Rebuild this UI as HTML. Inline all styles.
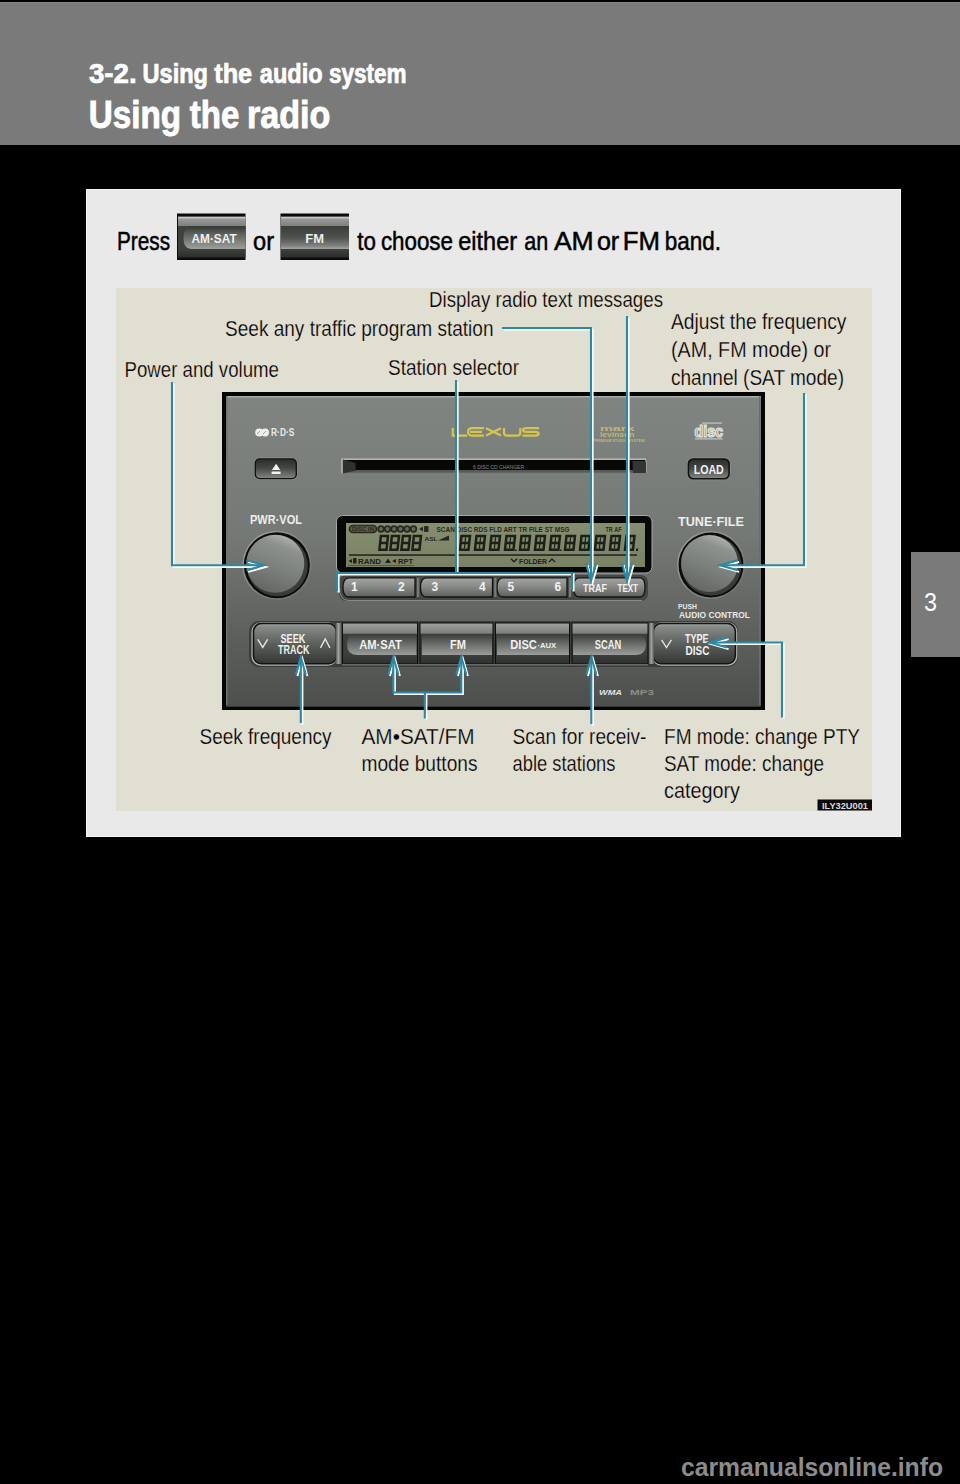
<!DOCTYPE html>
<html><head><meta charset="utf-8">
<style>
html,body{margin:0;padding:0;background:#000;width:960px;height:1484px;overflow:hidden}
svg{display:block;position:absolute;left:0;top:0}
text{font-family:"Liberation Sans",sans-serif}
</style></head><body>
<svg width="960" height="1484" viewBox="0 0 960 1484">
<defs>
<linearGradient id="face" x1="0" y1="0" x2="0" y2="1">
  <stop offset="0" stop-color="#818581"/><stop offset="0.45" stop-color="#757975"/>
  <stop offset="0.75" stop-color="#5e615d"/><stop offset="1" stop-color="#4c4f4b"/>
</linearGradient>
<linearGradient id="dkbtn" x1="0" y1="0" x2="0" y2="1">
  <stop offset="0" stop-color="#2c2f2c"/><stop offset="0.45" stop-color="#434643"/><stop offset="1" stop-color="#7f837f"/>
</linearGradient>
<linearGradient id="knob" x1="0.7" y1="0.0" x2="0.3" y2="1">
  <stop offset="0" stop-color="#b3b7b3"/><stop offset="0.2" stop-color="#8e928e"/><stop offset="0.6" stop-color="#7a7e7a"/><stop offset="1" stop-color="#626562"/>
</linearGradient>
<linearGradient id="ringg" x1="0" y1="0" x2="1" y2="1">
  <stop offset="0" stop-color="#9ea29e"/><stop offset="1" stop-color="#6d716d"/>
</linearGradient>
<linearGradient id="lcdsheen" x1="0" y1="0" x2="0" y2="1">
  <stop offset="0" stop-color="#fff" stop-opacity="0.05"/><stop offset="1" stop-color="#000" stop-opacity="0.05"/>
</linearGradient>
<linearGradient id="preset" x1="0" y1="0" x2="0" y2="1">
  <stop offset="0" stop-color="#a3a6a3"/><stop offset="0.4" stop-color="#8b8e8b"/><stop offset="1" stop-color="#5c5f5c"/>
</linearGradient>
<linearGradient id="rocker" x1="0" y1="0" x2="0" y2="1">
  <stop offset="0" stop-color="#9a9e9a"/><stop offset="0.08" stop-color="#858985"/><stop offset="0.5" stop-color="#5c605c"/><stop offset="1" stop-color="#353835"/>
</linearGradient>
<linearGradient id="sep" x1="0" y1="0" x2="1" y2="0">
  <stop offset="0" stop-color="#505350"/><stop offset="0.5" stop-color="#a0a3a0"/><stop offset="1" stop-color="#505350"/>
</linearGradient>
<linearGradient id="bbtn" x1="0" y1="0" x2="0" y2="1">
  <stop offset="0" stop-color="#a0a3a0"/><stop offset="0.25" stop-color="#7c7f7c"/>
  <stop offset="0.27" stop-color="#3c3f3c"/><stop offset="0.78" stop-color="#3c3f3c"/><stop offset="1" stop-color="#2d302d"/>
</linearGradient>
<linearGradient id="pill" x1="0" y1="0" x2="0" y2="1">
  <stop offset="0" stop-color="#383b38"/><stop offset="0.35" stop-color="#5d605d"/><stop offset="1" stop-color="#9a9d9a"/>
</linearGradient>
<linearGradient id="pbtn" x1="0" y1="0" x2="0" y2="1">
  <stop offset="0" stop-color="#9fa29f"/><stop offset="0.22" stop-color="#7f827f"/>
  <stop offset="0.23" stop-color="#3d403d"/><stop offset="0.8" stop-color="#3d403d"/><stop offset="1" stop-color="#2a2c2a"/>
</linearGradient>
<linearGradient id="ppill" x1="0" y1="0" x2="0" y2="1">
  <stop offset="0" stop-color="#333633"/><stop offset="0.3" stop-color="#5a5d5a"/><stop offset="1" stop-color="#9c9f9c"/>
</linearGradient>
<linearGradient id="ppill2" x1="0" y1="0" x2="0" y2="1">
  <stop offset="0" stop-color="#3a3d3a"/><stop offset="0.5" stop-color="#4f524f"/><stop offset="0.85" stop-color="#7d807d"/><stop offset="1" stop-color="#a3a6a3"/>
</linearGradient>
</defs>
<!-- header band -->
<rect x="0" y="2" width="960" height="143" fill="#7a7a7a"/>
<rect x="0" y="2" width="960" height="1" fill="#868686"/>
<g font-size="27" font-weight="bold" fill="#fff" stroke="#fff" stroke-width="0.7"><text id="h1_0" x="89.01" y="83" textLength="47.62" lengthAdjust="spacingAndGlyphs">3-2.</text><text id="h1_1" x="142.57" y="83" textLength="65.45" lengthAdjust="spacingAndGlyphs">Using</text><text id="h1_2" x="214.19" y="83" textLength="38.02" lengthAdjust="spacingAndGlyphs">the</text><text id="h1_3" x="259.80" y="83" textLength="62.80" lengthAdjust="spacingAndGlyphs">audio</text><text id="h1_4" x="329.00" y="83" textLength="77.60" lengthAdjust="spacingAndGlyphs">system</text></g>
<g font-size="38" font-weight="bold" fill="#fff" stroke="#fff" stroke-width="0.9"><text id="h2_0" x="88.77" y="127.5" textLength="92.25" lengthAdjust="spacingAndGlyphs">Using</text><text id="h2_1" x="189.80" y="127.5" textLength="49.60" lengthAdjust="spacingAndGlyphs">the</text><text id="h2_2" x="246.96" y="127.5" textLength="83.27" lengthAdjust="spacingAndGlyphs">radio</text></g>

<!-- white box -->
<rect x="86" y="189" width="815" height="648" fill="#f6f6f6"/>
<rect x="87" y="190" width="813" height="646" fill="#e9e9e9"/>

<!-- press line -->
<text x="117" y="249.5" font-size="26" fill="#000" stroke="#000" stroke-width="0.5" textLength="53" lengthAdjust="spacingAndGlyphs">Press</text>
<text x="253" y="249.5" font-size="26" fill="#000" stroke="#000" stroke-width="0.5" textLength="21" lengthAdjust="spacingAndGlyphs">or</text>
<g font-size="26" fill="#000" stroke="#000" stroke-width="0.5"><text id="p_0" x="357.29" y="249.6" textLength="18.62" lengthAdjust="spacingAndGlyphs">to</text><text id="p_1" x="380.90" y="249.6" textLength="72.10" lengthAdjust="spacingAndGlyphs">choose</text><text id="p_2" x="458.30" y="249.6" textLength="58.81" lengthAdjust="spacingAndGlyphs">either</text><text id="p_3" x="524.24" y="249.6" textLength="23.94" lengthAdjust="spacingAndGlyphs">an</text><text id="p_4" x="553.90" y="249.6" textLength="39.83" lengthAdjust="spacingAndGlyphs">AM</text><text id="p_5" x="596.88" y="249.6" textLength="22.32" lengthAdjust="spacingAndGlyphs">or</text><text id="p_6" x="622.74" y="249.6" textLength="37.17" lengthAdjust="spacingAndGlyphs">FM</text><text id="p_7" x="664.76" y="249.6" textLength="56.26" lengthAdjust="spacingAndGlyphs">band.</text></g>

<!-- press buttons -->
<g>
 <rect x="177" y="213.5" width="68.5" height="46.5" fill="#0a0b0a"/>
 <rect x="178" y="216.5" width="67.5" height="41" fill="url(#pbtn)"/>
 <rect x="178" y="217" width="67.5" height="1.5" fill="#c3c6c3"/>
 <path d="M191 226.5 H245.5 V249 H191 Q183.5 249 183.5 237.75 Q183.5 226.5 191 226.5 Z" fill="url(#ppill)"/>
 <text x="191.6" y="242.5" font-size="13" font-weight="bold" fill="#eef0ee" textLength="45" lengthAdjust="spacingAndGlyphs">AM·SAT</text>
 <rect x="280.5" y="213.5" width="68.5" height="46.5" fill="#0a0b0a"/>
 <rect x="281" y="216.5" width="68" height="41" fill="url(#pbtn)"/>
 <rect x="281" y="217" width="68" height="1.5" fill="#c3c6c3"/>
 <rect x="281" y="226.5" width="68" height="22.5" fill="url(#ppill2)"/>
 <text x="305.3" y="242.5" font-size="13" font-weight="bold" fill="#eef0ee" textLength="18.7" lengthAdjust="spacingAndGlyphs">FM</text>
</g>
<!-- beige panel -->
<rect x="116" y="288" width="756" height="523" fill="#e1dfd1"/>

<!-- radio -->
<g transform="translate(222,392)">
  <rect x="0" y="0" width="543" height="318" fill="#050505"/>
  <rect x="4" y="4" width="535" height="310.7" fill="url(#face)"/>
  <rect x="5" y="4" width="534" height="1.5" fill="#a9ada9"/>
  <rect x="4" y="4" width="1.5" height="309" fill="#6f736f"/>
  <rect x="537" y="4" width="1.5" height="309" fill="#6a6e6a"/>
  <!-- RDS -->
  <g fill="#eef0ee">
    <ellipse cx="37.2" cy="40.5" rx="4" ry="3.9"/><ellipse cx="43" cy="40.5" rx="4" ry="3.9"/>
  </g>
  <path d="M35 42 L38 39 M41 42 L44 39" stroke="#8a8d8a" stroke-width="0.8"/>
  <text x="49" y="44.3" font-size="10.5" font-weight="bold" fill="#e6e9e6" textLength="23.4" lengthAdjust="spacingAndGlyphs">R·D·S</text>
  <!-- eject -->
  <rect x="32" y="65.6" width="43.6" height="22.3" rx="5.5" fill="#8f938f"/>
  <rect x="32.6" y="66.2" width="42.4" height="21.1" rx="5" fill="#111211"/>
  <rect x="34" y="67.6" width="39.6" height="18.3" rx="4" fill="url(#dkbtn)"/>
  <path d="M49.9 78 L54.1 71.7 L58.3 78 Z M49.6 79.6 H58.6 V82 H49.6 Z" fill="#f2f2f2"/>
  <!-- CD slot -->
  <rect x="120" y="66.4" width="304" height="1.8" fill="#b3b6b3"/>
  <rect x="121" y="68" width="302" height="10.2" fill="#070807"/>
  <rect x="121" y="78.2" width="302" height="2.5" fill="#505350" opacity="0.8"/>
  <rect x="119" y="66.5" width="1.6" height="15" fill="#a9aca9"/>
  <path d="M121 67.5 L133.6 71 L133.6 78.5 L121 81.5 Z" fill="#2f312f"/>
  <path d="M410.5 69 H422 Q424 69 424 71 V81 H411 Z" fill="#333533"/>
  <rect x="424" y="68.5" width="1" height="12.5" fill="#9a9d9a"/>
  <text x="251" y="76.5" font-size="6" fill="#8a8d8a" textLength="51" lengthAdjust="spacingAndGlyphs">6 DISC CD CHANGER</text>
  <!-- LEXUS -->
  <g transform="translate(-222,-392)" fill="none" stroke="#d3c552" stroke-width="2.2">
    <path d="M452.8 428 V435.6 H467"/>
    <path d="M484 428.2 H472.5 Q468 428.2 468 431.9 Q468 435.6 472.5 435.6 H484 M470 431.9 H482"/>
    <path d="M486 428.2 L501 435.6 M501 428.2 L486 435.6"/>
    <path d="M504 428 V433 Q504 435.6 507 435.6 H517 Q520.3 435.6 520.3 433 V428"/>
    <path d="M539 428.2 H526.5 Q523 428.2 523 430 Q523 431.9 526.5 431.9 H535 Q538.6 431.9 538.6 433.7 Q538.6 435.6 535 435.6 H522.5"/>
  </g>
  <!-- mark levinson -->
  <g fill="#bdb67e">
    <text x="378" y="38.5" font-size="7.5" font-weight="bold" textLength="34.5" lengthAdjust="spacingAndGlyphs">mark</text>
    <text x="378" y="45.3" font-size="7.5" font-weight="bold" textLength="34.5" lengthAdjust="spacingAndGlyphs">levinson</text>
    <text x="371" y="50" font-size="4.2" font-weight="bold" textLength="51.4" lengthAdjust="spacingAndGlyphs">PREMIUM STUDIO SYSTEM</text>
  </g>
  <!-- disc logo -->
  <text x="472.5" y="44.5" font-size="16" font-weight="bold" fill="#8e918e" stroke="#e3e6e3" stroke-width="1.2" textLength="28.5" lengthAdjust="spacingAndGlyphs">disc</text>
  <rect x="473" y="46.3" width="27.5" height="1.2" fill="#c3c6c3"/>
  <rect x="480" y="30.5" width="20" height="1.2" fill="#c3c6c3"/>
  <!-- LOAD -->
  <rect x="465" y="65.6" width="43.5" height="22.6" rx="6" fill="#8f938f"/>
  <rect x="465.6" y="66.2" width="42.3" height="21.4" rx="5.5" fill="#111211"/>
  <rect x="467.2" y="67.8" width="39.1" height="18.2" rx="4.5" fill="url(#dkbtn)"/>
  <text x="471.75" y="82.1" font-size="13" font-weight="bold" fill="#f0f0f0" textLength="30" lengthAdjust="spacingAndGlyphs">LOAD</text>
  <!-- PWR VOL -->
  <text x="28" y="131.6" font-size="13" font-weight="bold" fill="#eceeec" textLength="52" lengthAdjust="spacingAndGlyphs">PWR·VOL</text>
  <circle cx="54.8" cy="173.2" r="34.5" fill="url(#ringg)"/>
  <circle cx="54.8" cy="173.2" r="33" fill="#0b0c0b"/>
  <circle cx="55.3" cy="173.7" r="30.5" fill="#3a3c3a"/>
  <circle cx="53.3" cy="171.7" r="29" fill="url(#knob)"/>
  <!-- TUNE FILE -->
  <text x="456" y="134" font-size="13" font-weight="bold" fill="#eceeec" textLength="66" lengthAdjust="spacingAndGlyphs">TUNE·FILE</text>
  <circle cx="489" cy="173" r="34" fill="url(#ringg)"/>
  <circle cx="489" cy="173" r="32.5" fill="#0b0c0b"/>
  <circle cx="489.5" cy="173.5" r="30" fill="#3a3c3a"/>
  <circle cx="487.5" cy="171.5" r="28.5" fill="url(#knob)"/>
  <text x="456" y="217" font-size="8" font-weight="bold" fill="#e6e8e6" textLength="19" lengthAdjust="spacingAndGlyphs">PUSH</text>
  <text x="457" y="226" font-size="9" font-weight="bold" fill="#e6e8e6" textLength="71" lengthAdjust="spacingAndGlyphs">AUDIO CONTROL</text>
  <!-- display -->
  <rect x="114.5" y="123.5" width="315.5" height="57.5" rx="6" fill="#070807" stroke="#a5a9a5" stroke-width="1"/>
  <rect x="124" y="131" width="299" height="44" fill="#80886a"/>
  <g fill="#1d2017">
    <rect x="127.5" y="133.5" width="27" height="7" rx="3.5" fill="#1d2017" fill-opacity="0.45" stroke="#1d2017" stroke-width="1.7"/>
    <text x="130" y="139.3" font-size="5.5" font-weight="bold" textLength="22" lengthAdjust="spacingAndGlyphs">DISC IN</text>
    <g fill="#1d2017" fill-opacity="0.35" stroke="#1d2017" stroke-width="1.8">
      <circle cx="159" cy="137" r="2.8"/><circle cx="165.5" cy="137" r="2.8"/><circle cx="172" cy="137" r="2.8"/>
      <circle cx="178.5" cy="137" r="2.8"/><circle cx="185" cy="137" r="2.8"/><circle cx="191.5" cy="137" r="2.8"/>
    </g>
    <path d="M197 137 L201 134.5 V139.5 Z"/><rect x="202" y="134" width="4.5" height="6" rx="1"/>
    <text x="214.5" y="139.5" font-size="7" font-weight="bold" textLength="133" lengthAdjust="spacingAndGlyphs">SCAN DISC RDS FLD ART TR FILE ST MSG</text>
    <text x="383.5" y="139.5" font-size="7" font-weight="bold" textLength="16" lengthAdjust="spacingAndGlyphs">TR AF</text>
    <text x="202.5" y="148.5" font-size="6" font-weight="bold" textLength="13" lengthAdjust="spacingAndGlyphs">ASL</text>
    <path d="M216 148.5 L227 143.5 V148.5 Z"/>
    <rect x="127" y="162.3" width="288" height="1.5"/>
    <path d="M126.5 169 L130 167 V171 Z"/><rect x="131" y="166" width="3.5" height="5.5" rx="0.8"/>
    <text x="136" y="171.5" font-size="7" font-weight="bold" textLength="23" lengthAdjust="spacingAndGlyphs">RAND</text>
    <path d="M163 171 L166 166.5 L169 171 Z"/><path d="M170 169 L174 167 V171 Z"/>
    <text x="176" y="171.5" font-size="7" font-weight="bold" textLength="15" lengthAdjust="spacingAndGlyphs">RPT</text>
    <rect x="126" y="173" width="66" height="0.8" opacity="0.5"/>
    <path d="M289 166.8 L292 169.8 L295 166.8" fill="none" stroke="#1d2017" stroke-width="1.4"/>
    <text x="297" y="172" font-size="7.5" font-weight="bold" textLength="28" lengthAdjust="spacingAndGlyphs">FOLDER</text>
    <path d="M327 170 L330 167 L333 170" fill="none" stroke="#1d2017" stroke-width="1.4"/>
  </g>
  <rect x="124" y="131" width="299" height="44" fill="url(#lcdsheen)"/>
  <!-- preset buttons -->
  <g>
    <rect x="117" y="183" width="309" height="26" rx="7" fill="#444744"/>
    <path d="M117.5 196 Q117.5 208.5 127 208.5 H420" fill="none" stroke="#8e928e" stroke-width="0.9"/>
    <g fill="url(#preset)" stroke="#121312" stroke-width="1.3">
      <path d="M127 185.8 H193 V205 H127 Q121 205 121 195.4 Q121 185.8 127 185.8 Z"/>
      <path d="M204.5 185.8 H270.5 V205 H204.5 Q198.5 205 198.5 195.4 Q198.5 185.8 204.5 185.8 Z"/>
      <path d="M281 185.8 H345 V205 H281 Q275 205 275 195.4 Q275 185.8 281 185.8 Z"/>
      <path d="M357.5 185.8 H418 Q423 185.8 423 195.4 Q423 205 418 205 H357.5 Q351.5 205 351.5 195.4 Q351.5 185.8 357.5 185.8 Z"/>
    </g>
    <g fill="#8f938f" opacity="0.7">
      <rect x="195" y="186" width="2.2" height="19"/><rect x="272.2" y="186" width="2.2" height="19"/><rect x="347" y="186" width="2.2" height="19"/>
    </g>
  </g>
  <g font-size="12" font-weight="bold" fill="#f2f2f2">
    <text x="129" y="199">1</text><text x="176" y="199">2</text>
    <text x="209.5" y="199">3</text><text x="257" y="199">4</text>
    <text x="285.5" y="199">5</text><text x="332.5" y="199">6</text>
    <text x="361" y="199.8" font-size="10" textLength="24" lengthAdjust="spacingAndGlyphs">TRAF</text>
    <text x="395.5" y="199.8" font-size="10" textLength="20.5" lengthAdjust="spacingAndGlyphs">TEXT</text>
  </g>
  <!-- bottom buttons -->
  <rect x="27" y="229" width="489" height="46" rx="10" fill="#3a3d3a"/>
  <rect x="29.4" y="230.3" width="86" height="43.4" rx="9.5" fill="#aeb1ae"/>
  <rect x="30.7" y="230.8" width="84.5" height="41.8" rx="8.5" fill="#121312"/>
  <rect x="32.3" y="232.3" width="81.3" height="38.8" rx="7.3" fill="url(#rocker)"/>
  <rect x="430" y="230.3" width="85.4" height="43.4" rx="9.5" fill="#aeb1ae"/>
  <rect x="430.5" y="230.8" width="83.6" height="41.8" rx="8.5" fill="#121312"/>
  <rect x="432" y="232.3" width="80.6" height="38.8" rx="7.3" fill="url(#rocker)"/>
  <rect x="113.5" y="231" width="6" height="41" fill="url(#sep)"/>
  <rect x="426.5" y="231" width="5.7" height="41" fill="url(#sep)"/>
  <g>
    <rect x="120.5" y="231" width="75" height="41" fill="url(#bbtn)" stroke="#0d0e0d" stroke-width="1"/>
    <rect x="198" y="231" width="73" height="41" fill="url(#bbtn)" stroke="#0d0e0d" stroke-width="1"/>
    <rect x="273.5" y="231" width="74" height="41" fill="url(#bbtn)" stroke="#0d0e0d" stroke-width="1"/>
    <rect x="350" y="231" width="76" height="41" fill="url(#bbtn)" stroke="#0d0e0d" stroke-width="1"/>
    <path d="M135 242 H194.5 V263 H135 Q125 263 125 252.5 Q125 242 135 242 Z" fill="url(#pill)"/>
    <rect x="200" y="242" width="70" height="21" fill="url(#pill)"/>
    <rect x="275" y="242" width="72" height="21" fill="url(#pill)"/>
    <path d="M351 242 H414 Q424 242 424 252.5 Q424 263 414 263 H351 Z" fill="url(#pill)"/>
  </g>
  <rect x="120" y="272.3" width="306" height="1" fill="#9a9d9a" opacity="0.8"/>
  <g font-weight="bold" fill="#f0f2f0">
    <text x="137.2" y="257" font-size="12" textLength="42.6" lengthAdjust="spacingAndGlyphs">AM·SAT</text>
    <text x="228" y="257" font-size="12" textLength="16" lengthAdjust="spacingAndGlyphs">FM</text>
    <text x="288.3" y="257" font-size="12" textLength="26.6" lengthAdjust="spacingAndGlyphs">DISC</text>
    <text x="315.5" y="255.5" font-size="7.5" textLength="18.7" lengthAdjust="spacingAndGlyphs">·AUX</text>
    <text x="372.7" y="257" font-size="12" textLength="26.5" lengthAdjust="spacingAndGlyphs">SCAN</text>
    <text x="58.5" y="250.5" font-size="13" textLength="24.8" lengthAdjust="spacingAndGlyphs">SEEK</text>
    <text x="56.1" y="262.2" font-size="13" textLength="31.4" lengthAdjust="spacingAndGlyphs">TRACK</text>
    <text x="462.9" y="250.9" font-size="13" textLength="23.5" lengthAdjust="spacingAndGlyphs">TYPE</text>
    <text x="463.6" y="262.9" font-size="13" textLength="23.9" lengthAdjust="spacingAndGlyphs">DISC</text>
  </g>
  <g fill="none" stroke="#e8eae8" stroke-width="1.3">
    <path d="M35.8 247.4 L40.7 255.4 L45.6 247.4"/>
    <path d="M98.5 255.9 L103.2 247 L107.9 255.9"/>
    <path d="M439.6 247.8 L444.5 255.6 L449.4 247.8"/>
  </g>
  <text x="377" y="303" font-size="7" font-weight="bold" font-style="italic" fill="#e0e2e0" textLength="23" lengthAdjust="spacingAndGlyphs">WMA</text>
  <text x="408" y="303" font-size="7" font-weight="bold" fill="#8b8e8b" textLength="24" lengthAdjust="spacingAndGlyphs">MP3</text>
</g>

<!-- lcd digits -->
<g fill="#1d2017" transform="matrix(1,0,-0.11,1,60.6,0)">
<path d="M378.00 534.80 h9.6 v16.2 h-9.6 Z M380.50 537.30 v4.35 h4.60 v-4.35 Z M380.50 544.15 v4.35 h4.60 v-4.35 Z" fill-rule="evenodd"/>
<path d="M389.00 534.80 h9.6 v16.2 h-9.6 Z M391.50 537.30 v4.35 h4.60 v-4.35 Z M391.50 544.15 v4.35 h4.60 v-4.35 Z" fill-rule="evenodd"/>
<path d="M400.00 534.80 h9.6 v16.2 h-9.6 Z M402.50 537.30 v4.35 h4.60 v-4.35 Z M402.50 544.15 v4.35 h4.60 v-4.35 Z" fill-rule="evenodd"/>
<path d="M411.00 534.80 h9.6 v16.2 h-9.6 Z M413.50 537.30 v4.35 h4.60 v-4.35 Z M413.50 544.15 v4.35 h4.60 v-4.35 Z" fill-rule="evenodd"/>
<path d="M458.60 534.80 h11.0 v16.2 h-11.0 Z M461.10 537.30 v4.35 h6.00 v-4.35 Z M461.10 544.15 v4.35 h6.00 v-4.35 Z" fill-rule="evenodd"/>
<rect x="463.50" y="537.30" width="1.2" height="11.20"/>
<path d="M473.60 534.80 h11.0 v16.2 h-11.0 Z M476.10 537.30 v4.35 h6.00 v-4.35 Z M476.10 544.15 v4.35 h6.00 v-4.35 Z" fill-rule="evenodd"/>
<rect x="478.50" y="537.30" width="1.2" height="11.20"/>
<path d="M488.60 534.80 h11.0 v16.2 h-11.0 Z M491.10 537.30 v4.35 h6.00 v-4.35 Z M491.10 544.15 v4.35 h6.00 v-4.35 Z" fill-rule="evenodd"/>
<rect x="493.50" y="537.30" width="1.2" height="11.20"/>
<path d="M503.60 534.80 h11.0 v16.2 h-11.0 Z M506.10 537.30 v4.35 h6.00 v-4.35 Z M506.10 544.15 v4.35 h6.00 v-4.35 Z" fill-rule="evenodd"/>
<rect x="508.50" y="537.30" width="1.2" height="11.20"/>
<path d="M518.60 534.80 h11.0 v16.2 h-11.0 Z M521.10 537.30 v4.35 h6.00 v-4.35 Z M521.10 544.15 v4.35 h6.00 v-4.35 Z" fill-rule="evenodd"/>
<rect x="523.50" y="537.30" width="1.2" height="11.20"/>
<path d="M533.60 534.80 h11.0 v16.2 h-11.0 Z M536.10 537.30 v4.35 h6.00 v-4.35 Z M536.10 544.15 v4.35 h6.00 v-4.35 Z" fill-rule="evenodd"/>
<rect x="538.50" y="537.30" width="1.2" height="11.20"/>
<path d="M548.60 534.80 h11.0 v16.2 h-11.0 Z M551.10 537.30 v4.35 h6.00 v-4.35 Z M551.10 544.15 v4.35 h6.00 v-4.35 Z" fill-rule="evenodd"/>
<rect x="553.50" y="537.30" width="1.2" height="11.20"/>
<path d="M563.60 534.80 h11.0 v16.2 h-11.0 Z M566.10 537.30 v4.35 h6.00 v-4.35 Z M566.10 544.15 v4.35 h6.00 v-4.35 Z" fill-rule="evenodd"/>
<rect x="568.50" y="537.30" width="1.2" height="11.20"/>
<path d="M578.60 534.80 h11.0 v16.2 h-11.0 Z M581.10 537.30 v4.35 h6.00 v-4.35 Z M581.10 544.15 v4.35 h6.00 v-4.35 Z" fill-rule="evenodd"/>
<rect x="583.50" y="537.30" width="1.2" height="11.20"/>
<path d="M593.60 534.80 h11.0 v16.2 h-11.0 Z M596.10 537.30 v4.35 h6.00 v-4.35 Z M596.10 544.15 v4.35 h6.00 v-4.35 Z" fill-rule="evenodd"/>
<rect x="598.50" y="537.30" width="1.2" height="11.20"/>
<path d="M608.60 534.80 h11.0 v16.2 h-11.0 Z M611.10 537.30 v4.35 h6.00 v-4.35 Z M611.10 544.15 v4.35 h6.00 v-4.35 Z" fill-rule="evenodd"/>
<rect x="613.50" y="537.30" width="1.2" height="11.20"/>
<path d="M623.60 534.80 h10.5 v16.2 h-10.5 Z M626.10 537.30 v4.35 h5.50 v-4.35 Z M626.10 544.15 v4.35 h5.50 v-4.35 Z" fill-rule="evenodd"/>
<rect x="628.25" y="537.30" width="1.2" height="11.20"/>
<rect x="515.0" y="549.5" width="1.6" height="1.6"/>
<rect x="560.0" y="549.5" width="1.6" height="1.6"/>
<rect x="636" y="548.5" width="2" height="2.5"/>
</g>
<!-- callout lines -->
<g fill="none" stroke-linecap="butt" stroke-linejoin="miter">
 <g stroke="#ffffff" stroke-width="2" transform="translate(1.6,1.6)">
  <path d="M172 382 V565.3 H263"/>
  <path d="M246.5 560.3 L264 565.3 L246.5 570.3"/>
  <path d="M456 380 V573"/>
  <path d="M337 591 V573 H572 V590"/>
  <path d="M502 328 H591 V580"/>
  <path d="M586 563.5 L591 581 L596 563.5"/>
  <path d="M627 316 V580"/>
  <path d="M622 563.5 L627 581 L632 563.5"/>
  <path d="M804 393 V565.3 H721"/>
  <path d="M737.5 560.3 L720 565.3 L737.5 570.3"/>
  <path d="M300.8 723 V658"/>
  <path d="M295.8 674.5 L300.8 657 L305.8 674.5"/>
  <path d="M424.8 718.5 V692.5 M393.3 658 V692.5 H461.3 V658"/>
  <path d="M388.3 674.5 L393.3 657 L398.3 674.5 M456.3 674.5 L461.3 657 L466.3 674.5"/>
  <path d="M591.3 724 V658"/>
  <path d="M586.3 674.5 L591.3 657 L596.3 674.5"/>
  <path d="M782 717.5 V642.5 H710"/>
  <path d="M727 637.5 L709.5 642.5 L727 647.5"/>
 </g>
 <g stroke="#2c89a4" stroke-width="2.1">
  <path d="M172 382 V565.3 H263"/>
  <path d="M246.5 560.3 L264 565.3 L246.5 570.3"/>
  <path d="M456 380 V573"/>
  <path d="M337 591 V573 H572 V590"/>
  <path d="M502 328 H591 V580"/>
  <path d="M586 563.5 L591 581 L596 563.5"/>
  <path d="M627 316 V580"/>
  <path d="M622 563.5 L627 581 L632 563.5"/>
  <path d="M804 393 V565.3 H721"/>
  <path d="M737.5 560.3 L720 565.3 L737.5 570.3"/>
  <path d="M300.8 723 V658"/>
  <path d="M295.8 674.5 L300.8 657 L305.8 674.5"/>
  <path d="M424.8 718.5 V692.5 M393.3 658 V692.5 H461.3 V658"/>
  <path d="M388.3 674.5 L393.3 657 L398.3 674.5 M456.3 674.5 L461.3 657 L466.3 674.5"/>
  <path d="M591.3 724 V658"/>
  <path d="M586.3 674.5 L591.3 657 L596.3 674.5"/>
  <path d="M782 717.5 V642.5 H710"/>
  <path d="M727 637.5 L709.5 642.5 L727 647.5"/>
 </g>
</g>

<!-- labels -->
<g font-size="21.5" fill="#000" stroke="#e1dfd1" stroke-width="0.25">
<text x="429" y="306.5" textLength="234" lengthAdjust="spacingAndGlyphs">Display radio text messages</text>
<text x="225" y="335.5" textLength="268.5" lengthAdjust="spacingAndGlyphs">Seek any traffic program station</text>
<text x="671" y="329" textLength="175.5" lengthAdjust="spacingAndGlyphs">Adjust the frequency</text>
<text x="671" y="357" textLength="160" lengthAdjust="spacingAndGlyphs">(AM, FM mode) or</text>
<text x="671" y="384.5" textLength="173" lengthAdjust="spacingAndGlyphs">channel (SAT mode)</text>
<text x="124.5" y="377" textLength="154.5" lengthAdjust="spacingAndGlyphs">Power and volume</text>
<text x="388" y="375" textLength="131" lengthAdjust="spacingAndGlyphs">Station selector</text>
<text x="199.5" y="744" textLength="132" lengthAdjust="spacingAndGlyphs">Seek frequency</text>
<text x="361.5" y="744" textLength="113" lengthAdjust="spacingAndGlyphs">AM•SAT/FM</text>
<text x="361.5" y="771" textLength="116" lengthAdjust="spacingAndGlyphs">mode buttons</text>
<text x="512.5" y="744" textLength="134" lengthAdjust="spacingAndGlyphs">Scan for receiv-</text>
<text x="512.5" y="771" textLength="103" lengthAdjust="spacingAndGlyphs">able stations</text>
<text x="664" y="744" textLength="196" lengthAdjust="spacingAndGlyphs">FM mode: change PTY</text>
<text x="664" y="771" textLength="160" lengthAdjust="spacingAndGlyphs">SAT mode: change</text>
<text x="664" y="798" textLength="76" lengthAdjust="spacingAndGlyphs">category</text>
</g>

<!-- id label -->
<rect x="817.5" y="799.5" width="54.5" height="11" fill="#0a0a0a"/>
<text x="822" y="808.5" font-size="9.5" font-weight="bold" fill="#dcdcdc" textLength="46" lengthAdjust="spacingAndGlyphs">ILY32U001</text>

<!-- side tab -->
<rect x="911" y="552" width="49" height="105" fill="#7a7a7a"/>
<text x="924" y="611" font-size="26" fill="#fff" textLength="13" lengthAdjust="spacingAndGlyphs">3</text>

<!-- footer -->
<text x="681" y="1476" font-size="25" font-weight="bold" fill="#8c8c8c" textLength="262" lengthAdjust="spacingAndGlyphs">carmanualsonline.info</text>
</svg>
</body></html>
